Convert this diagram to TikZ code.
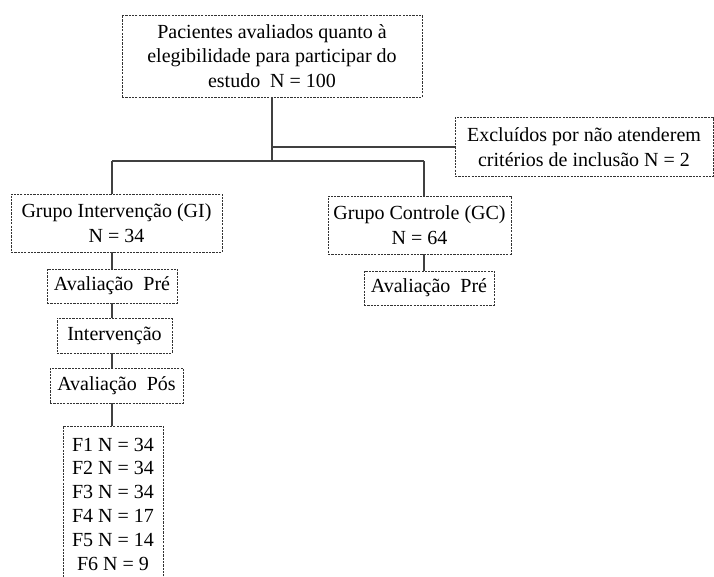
\documentclass[tikz,border=0pt]{standalone}
\usepackage{fontspec}
\setmainfont{Liberation Serif}
\begin{document}
\begin{tikzpicture}[x=1pt,y=-1pt,
  box/.style={draw=black!80, line width=0.9pt, dash pattern=on 2.2pt off 1.1pt,
    rectangle, inner sep=0pt, align=center, text=black,
    font=\fontsize{20}{24.5}\selectfont},
  conn/.style={draw=black!75, line width=1.4pt}]
\useasboundingbox (0,0) rectangle (714,576);
\node[box, minimum width=300, minimum height=82] (top) at (272,56)
  {Pacientes avaliados quanto à\\elegibilidade para participar do\\estudo\ \ N = 100};
\node[box, minimum width=258, minimum height=59] (excl) at (584,147)
  {Excluídos por não atenderem\\critérios de inclusão N = 2};
\node[box, minimum width=211, minimum height=58] (gi) at (116.5,223)
  {Grupo Intervenção (GI)\\N = 34};
\node[box, minimum width=183, minimum height=58] (gc) at (419.5,225)
  {Grupo Controle (GC)\\N = 64};
\node[box, minimum width=130, minimum height=34] (avpre) at (112,286)
  {Avaliação\ \ Pré};
\node[box, minimum width=115, minimum height=35] (interv) at (114.5,335.5)
  {Intervenção};
\node[box, minimum width=133, minimum height=35] (avpos) at (116.5,385.5)
  {Avaliação\ \ Pós};
\node[box, minimum width=100, minimum height=156, font=\fontsize{20}{23.8}\selectfont] (fbox) at (113,504)
  {F1 N = 34\\F2 N = 34\\F3 N = 34\\F4 N = 17\\F5 N = 14\\F6 N = 9};
\node[box, minimum width=130, minimum height=34] (avpregc) at (429,288)
  {Avaliação\ \ Pré};
\coordinate (j1) at (272,147);
\coordinate (j2) at (272,161);
\coordinate (bl) at (112,161);
\coordinate (br) at (424,161);
\draw[conn] (top.south) -- (j2);
\draw[conn] (j1) -- (excl.west);
\draw[conn] (bl) -- (br);
\draw[conn] (bl) -- (gi.north -| bl);
\draw[conn] (br) -- (gc.north -| br);
\draw[conn] (gi.south -| bl) -- (avpre.north -| bl);
\draw[conn] (avpre.south -| bl) -- (interv.north -| bl);
\draw[conn] (interv.south -| bl) -- (avpos.north -| bl);
\draw[conn] (avpos.south -| bl) -- (fbox.north -| bl);
\draw[conn] (gc.south -| br) -- (avpregc.north -| br);
\end{tikzpicture}
\end{document}
